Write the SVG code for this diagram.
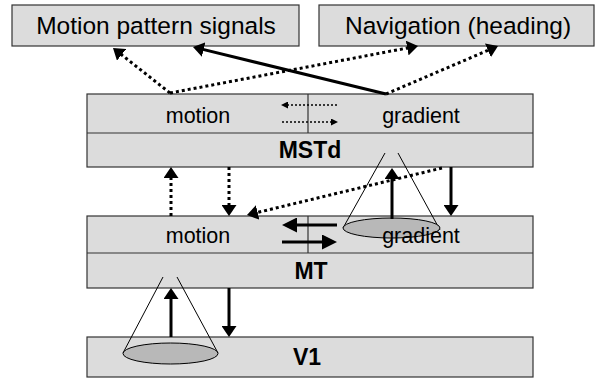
<svg xmlns="http://www.w3.org/2000/svg" width="596" height="378" viewBox="0 0 596 378">
  <defs>
    <style>
      .box { fill: #dcdcdc; stroke: #333; stroke-width: 1.2; }
      .div { stroke: #333; stroke-width: 1.2; fill: none; }
      .lbl { font-family: "Liberation Sans", Arial, sans-serif; fill: #000; text-anchor: middle; }
      .top { font-size: 24.5px; }
      .mid { font-size: 21.5px; }
      .bold { font-size: 23px; font-weight: bold; }
      .dot { stroke: #000; stroke-width: 3; stroke-dasharray: 3 3; fill: none; }
      .thindot { stroke: #000; stroke-width: 1.5; stroke-dasharray: 2 2; fill: none; }
      .solid { stroke: #000; stroke-width: 3; fill: none; }
      .cone { stroke: #000; stroke-width: 1; fill: none; }
      .rf { fill: #b8b8b8; stroke: #000; stroke-width: 1; }
    </style>
    <marker id="ah" markerUnits="userSpaceOnUse" markerWidth="11" markerHeight="15" refX="5" refY="7.5" orient="auto">
      <path d="M0,0 L11,7.5 L0,15 z" fill="#000"/>
    </marker>
    <marker id="ahL" markerUnits="userSpaceOnUse" markerWidth="15" markerHeight="15" refX="7" refY="7.5" orient="auto">
      <path d="M0,0 L15,7.5 L0,15 z" fill="#000"/>
    </marker>
    <marker id="ahS" markerUnits="userSpaceOnUse" markerWidth="7" markerHeight="7" refX="3" refY="3.5" orient="auto">
      <path d="M0,0 L7,3.5 L0,7 z" fill="#000"/>
    </marker>
  </defs>

  <g id="node-motion-pattern">
    <rect class="box" x="12" y="5" width="287" height="41"/>
    <text class="lbl top" x="156" y="34">Motion pattern signals</text>
  </g>

  <g id="node-navigation">
    <rect class="box" x="319" y="5" width="275" height="41"/>
    <text class="lbl top" x="458" y="34">Navigation (heading)</text>
  </g>

  <g id="node-mstd">
    <rect class="box" x="87" y="94" width="446" height="73"/>
    <line class="div" x1="87" y1="133" x2="533" y2="133"/>
    <line class="div" x1="308" y1="94" x2="308" y2="133"/>
    <text class="lbl mid" x="198" y="123">motion</text>
    <text class="lbl mid" x="421" y="123">gradient</text>
    <text class="lbl bold" x="310" y="158">MSTd</text>
  </g>

  <g id="node-mt">
    <rect class="box" x="87" y="216" width="446" height="72"/>
    <line class="div" x1="87" y1="253" x2="533" y2="253"/>
    <line class="div" x1="308" y1="216" x2="308" y2="253"/>
    <text class="lbl mid" x="198" y="243">motion</text>
    <text class="lbl bold" x="311" y="279">MT</text>
  </g>

  <g id="node-v1">
    <rect class="box" x="87" y="337" width="446" height="40"/>
    <text class="lbl bold" x="307" y="365">V1</text>
  </g>

  <g id="receptive-fields">
    <line class="cone" x1="385" y1="153" x2="343" y2="228"/>
    <line class="cone" x1="398" y1="153" x2="440" y2="230"/>
    <ellipse class="rf" cx="391.5" cy="228" rx="48.5" ry="10"/>
    <line class="cone" x1="163" y1="277" x2="123" y2="353"/>
    <line class="cone" x1="177" y1="277" x2="218" y2="353"/>
    <ellipse class="rf" cx="170.5" cy="353.5" rx="47.5" ry="10.5"/>
  </g>

  <g id="connectors">
    <line class="dot" x1="170" y1="93" x2="117.7" y2="51.7" marker-end="url(#ah)"/>
    <line class="dot" x1="170" y1="93" x2="412.1" y2="47.1" marker-end="url(#ah)"/>
    <line class="solid" x1="386" y1="94" x2="198.8" y2="48.4" marker-end="url(#ah)"/>
    <line class="dot" x1="386" y1="94" x2="492.5" y2="48.4" marker-end="url(#ah)"/>

    <line class="thindot" x1="337" y1="105" x2="285" y2="105" marker-end="url(#ahS)"/>
    <line class="thindot" x1="282" y1="122" x2="334" y2="122" marker-end="url(#ahS)"/>

    <line class="dot" x1="171" y1="216" x2="171" y2="173" marker-end="url(#ah)"/>
    <line class="dot" x1="229" y1="167" x2="229" y2="210" marker-end="url(#ah)"/>
    <line class="dot" x1="442" y1="168" x2="252.8" y2="213.6" marker-end="url(#ah)"/>
    <line class="solid" x1="392" y1="219" x2="392" y2="174" marker-end="url(#ah)"/>
    <line class="solid" x1="451" y1="167" x2="451" y2="210" marker-end="url(#ah)"/>

    <line class="solid" x1="337" y1="225" x2="290" y2="225" marker-end="url(#ahL)"/>
    <line class="solid" x1="282" y1="242" x2="329" y2="242" marker-end="url(#ahL)"/>

    <line class="solid" x1="171" y1="337" x2="171" y2="294" marker-end="url(#ah)"/>
    <line class="solid" x1="229" y1="288" x2="229" y2="331" marker-end="url(#ah)"/>
  </g>

  <g id="mt-gradient-label">
    <text class="lbl mid" x="421" y="243">gradient</text>
  </g>
</svg>
